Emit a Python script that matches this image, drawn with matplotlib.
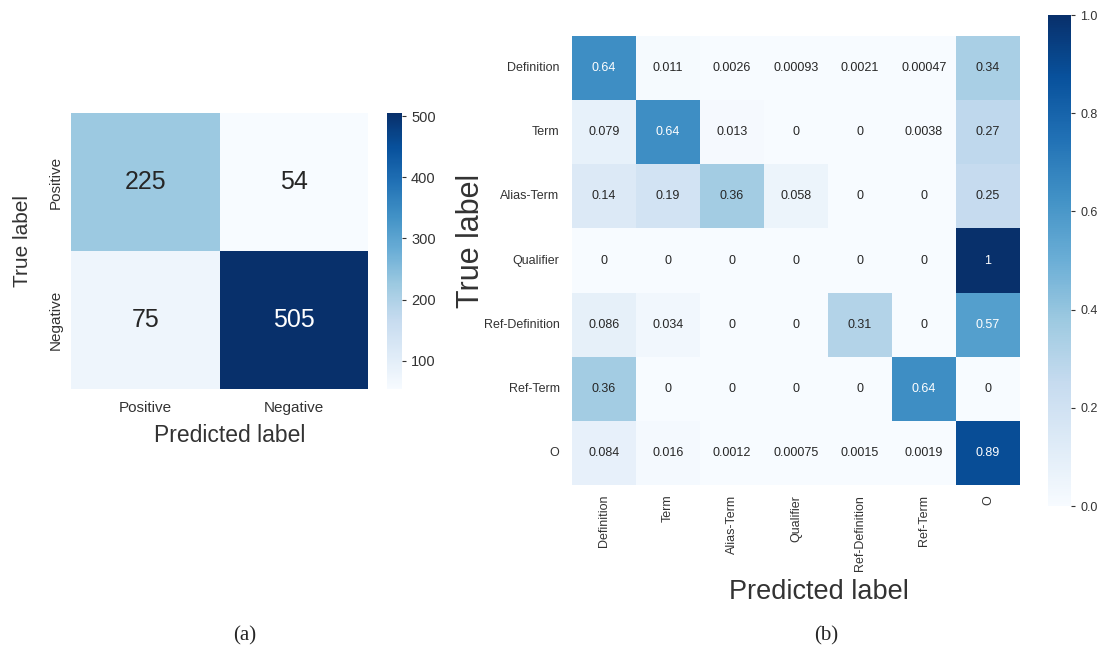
import numpy as np
import matplotlib
matplotlib.use('Agg')
import matplotlib.pyplot as plt
import seaborn as sns

# (a) binary confusion matrix
bin_labels = ['Positive', 'Negative']
bin_counts = np.array([[225, 54],
                       [75, 505]])

# (b) normalised multi-class confusion matrix
cls_labels = ['Definition', 'Term', 'Alias-Term', 'Qualifier', 'Ref-Definition', 'Ref-Term', 'O']
row_definition = [0.64, 0.011, 0.0026, 0.00093, 0.0021, 0.00047, 0.34]
row_term = [0.079, 0.64, 0.013, 0, 0, 0.0038, 0.27]
row_alias = [0.14, 0.19, 0.36, 0.058, 0, 0, 0.25]
row_qualifier = [0, 0, 0, 0, 0, 0, 1]
row_refdef = [0.086, 0.034, 0, 0, 0.31, 0, 0.57]
row_refterm = [0.36, 0, 0, 0, 0, 0.64, 0]
row_o = [0.084, 0.016, 0.0012, 0.00075, 0.0015, 0.0019, 0.89]
cls_norm = np.array([row_definition, row_term, row_alias, row_qualifier,
                     row_refdef, row_refterm, row_o])

sns.set_style('white')
plt.rcParams['font.family'] = ['Liberation Sans', 'DejaVu Sans']
txt = '#333333'

fig = plt.figure(figsize=(10.99, 6.48), dpi=100)

# left panel
ax1 = fig.add_axes([0.0646, 0.3997, 0.2703, 0.4259])
cax1 = fig.add_axes([0.3521, 0.3997, 0.0137, 0.4259])
sns.heatmap(bin_counts, annot=True, fmt='d', cmap='Blues', ax=ax1, cbar_ax=cax1,
            xticklabels=bin_labels, yticklabels=bin_labels,
            annot_kws={'fontsize': 18})
ax1.set_xlabel('Predicted label', fontsize=16.5, color=txt, labelpad=6)
ax1.set_ylabel('True label', fontsize=15, color=txt, labelpad=12)
ax1.xaxis.label.set_x(0.534)
ax1.yaxis.label.set_y(0.536)
ax1.tick_params(axis='x', labelsize=11, length=0, colors=txt, pad=9)
ax1.tick_params(axis='y', labelsize=11, length=0, colors=txt, pad=6)
plt.setp(ax1.get_yticklabels(), rotation=90, va='center')
cax1.tick_params(labelsize=10.5, colors=txt, length=3)

# right panel
ax2 = fig.add_axes([0.5205, 0.2515, 0.4076, 0.6929])
cax2 = fig.add_axes([0.9536, 0.2191, 0.0209, 0.7577])
sns.heatmap(cls_norm, annot=True, fmt='.2g', cmap='Blues', vmin=0, vmax=1, ax=ax2, cbar_ax=cax2,
            xticklabels=cls_labels, yticklabels=cls_labels,
            annot_kws={'fontsize': 9})
ax2.set_xlabel('Predicted label', fontsize=19.5, color=txt, labelpad=6)
ax2.set_ylabel('True label', fontsize=22, color=txt, labelpad=-2)
ax2.xaxis.label.set_x(0.551)
ax2.yaxis.label.set_y(0.543)
ax2.tick_params(axis='x', labelsize=9, length=0, colors=txt, pad=7)
ax2.tick_params(axis='y', labelsize=9, length=0, colors=txt, pad=9)
plt.setp(ax2.get_xticklabels(), rotation=90)
plt.setp(ax2.get_yticklabels(), rotation=0)
cax2.tick_params(labelsize=9, colors=txt, length=3)

fig.text(0.223, 0.012, '(a)', ha='center', fontsize=15, family='Liberation Serif')
fig.text(0.752, 0.012, '(b)', ha='center', fontsize=15, family='Liberation Serif')

fig.savefig('out.png', dpi=100)
